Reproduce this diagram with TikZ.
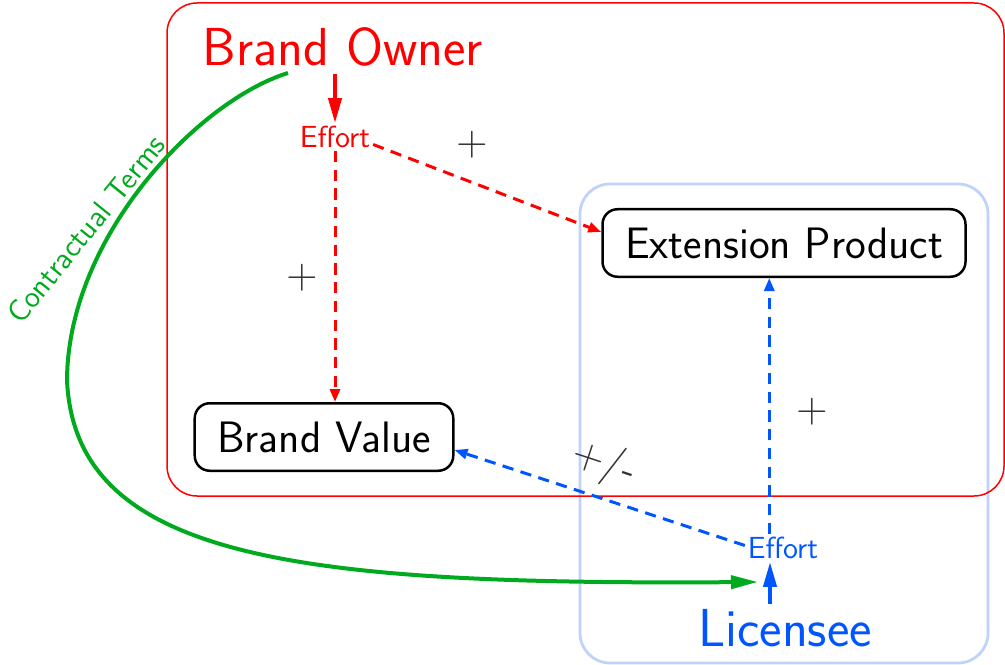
\documentclass[tikz,border=0pt]{standalone}
\usepackage{amsmath}
\usepackage{tikz}
\usetikzlibrary{arrows.meta,positioning,calc}
\definecolor{licensee}{RGB}{0,85,255}
\definecolor{licensee-lighter}{RGB}{190,210,250}
\definecolor{contract}{RGB}{0,170,30}
\definecolor{signgray}{RGB}{51,51,51}
\renewcommand{\familydefault}{\sfdefault}

\begin{document}
\begin{tikzpicture}[x=0.4pt, y=-0.4pt,
	box/.style={draw=black, line width=1pt, rounded corners=6pt, inner xsep=9pt, minimum height=27pt, font=\fontsize{17.6}{21}\selectfont},
	party/.style={inner sep=2pt, font=\fontsize{21.4}{26}\selectfont},
	effort/.style={inner sep=1pt, font=\fontsize{12.2}{15}\selectfont},
	sign/.style={signgray, font=\fontsize{16}{18}\selectfont},
	push/.style={line width=1.6pt, -{Triangle[length=10pt,width=5.2pt]}},
	impact/.style={line width=1.2pt, dash pattern=on 4.5pt off 3pt, -{Triangle[length=5.2pt,width=4pt]}}]

	\useasboundingbox (0,0) rectangle (1005,665);

	% spheres of influence
	\draw[licensee-lighter, line width=1.1pt, rounded corners=12pt] (580,184) rectangle (988,663);
	\draw[red, line width=0.6pt, rounded corners=12pt] (167,3) rectangle (1004,496);

	% parties and their effort
	\node[party, red] (owner) at (343,47) {Brand Owner};
	\node[effort, red] (effortOwner) at (335,137) {Effort};
	\node[party, licensee] (licensee) at (785,628) {Licensee};
	\node[effort, licensee] (effortLicensee) at (783,548) {Effort};

	\node[box] (product) at (784,243) {Extension Product};
	\node[box] (value) at (324,437) {Brand Value};

	% brand owner side
	\draw[push, red] ([yshift=-1pt]owner.south -| effortOwner.north) -- (effortOwner.north);
	\draw[impact, red] (effortOwner.south) -- (effortOwner.south |- value.north);
	\draw[impact, red] ([yshift=-3pt]effortOwner.east) -- ([yshift=4.4pt]product.west);
	\node[sign] (plusValue) at (302,278) {$+$};
	\node[sign] (plusProduct) at (472,145) {$+$};

	% licensee side
	\draw[push, licensee] ([xshift=-6pt]licensee.north) -- ([xshift=-6pt]licensee.north |- effortLicensee.south);
	\draw[impact, licensee] ([xshift=-5.5pt]effortLicensee.north) -- ([xshift=-5.5pt]effortLicensee.north |- product.south);
	\draw[impact, licensee] ([yshift=1pt]effortLicensee.west) -- ([yshift=-5.2pt]value.east)
		node[sign, pos=0.52, sloped, above=1pt] (mixedValue) {$+/$-};
	\node[sign] (plusLicensee) at (812,412) {$+$};

	% contract
	\coordinate (termsStart) at (288,73);
	\coordinate (termsEnd) at (758,582);
	\draw[contract, line width=1.6pt, -{Triangle[length=10.8pt,width=5.2pt]}] (termsStart) .. controls (200,100) and (68,235) .. (67,380) .. controls (75,560) and (300,585) .. (termsEnd);
	\node[effort, contract, rotate=51] (terms) at (86,229) {Contractual Terms};

\end{tikzpicture}
\end{document}
